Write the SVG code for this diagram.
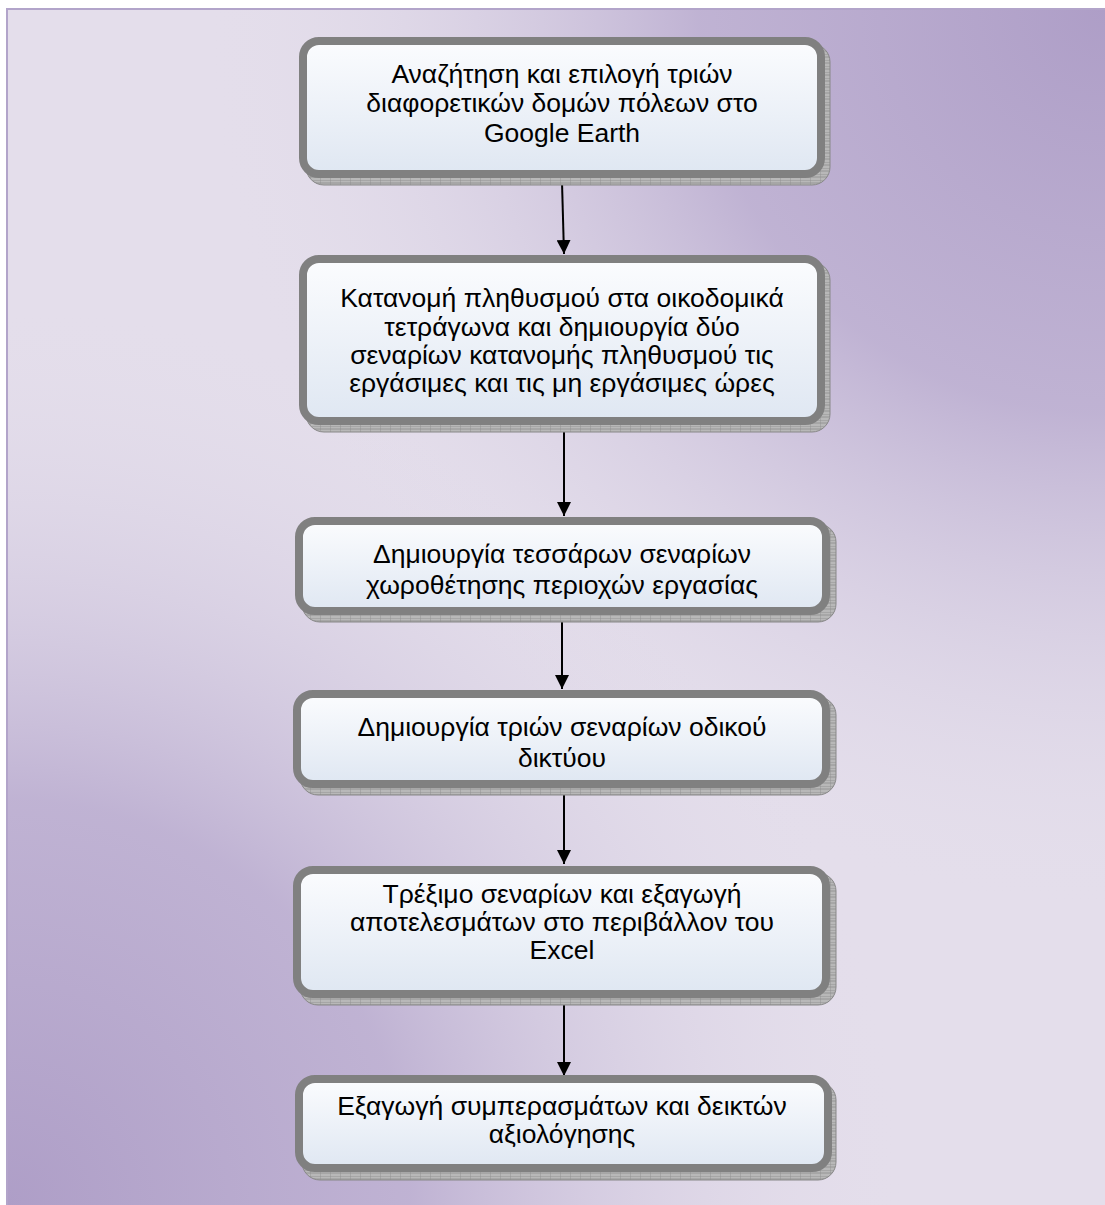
<svg xmlns="http://www.w3.org/2000/svg" width="1105" height="1205" viewBox="0 0 1105 1205">
<defs>
<radialGradient id="tr" cx="1105" cy="8" r="900" gradientUnits="userSpaceOnUse">
<stop offset="0" stop-color="#ae9ec7" stop-opacity="1"/>
<stop offset="0.45" stop-color="#b9abcf" stop-opacity="0.85"/>
<stop offset="1" stop-color="#e4deeb" stop-opacity="0"/>
</radialGradient>
<radialGradient id="bl" cx="6" cy="1205" r="900" gradientUnits="userSpaceOnUse">
<stop offset="0" stop-color="#ae9ec7" stop-opacity="1"/>
<stop offset="0.45" stop-color="#b9abcf" stop-opacity="0.85"/>
<stop offset="1" stop-color="#e4deeb" stop-opacity="0"/>
</radialGradient>
<linearGradient id="boxfill" x1="0" y1="0" x2="0" y2="1">
<stop offset="0" stop-color="#fbfcfe"/>
<stop offset="1" stop-color="#dfe7f2"/>
</linearGradient>
<pattern id="hatch" width="10" height="6" patternUnits="userSpaceOnUse">
<rect width="10" height="6" fill="#b8b8b8"/>
<path d="M0 0H10M0 3H10M0 0V6" stroke="#8c8c8c" stroke-width="0.8"/>
</pattern>
<marker id="arr" viewBox="0 0 10 10" refX="10" refY="5" markerWidth="7" markerHeight="7" markerUnits="strokeWidth" orient="auto">
<path d="M0 0L10 5L0 10Z" fill="#000"/>
</marker>
</defs>
<style>
.shadow{fill:url(#hatch);stroke:#888;stroke-width:1}
.box{fill:url(#boxfill);stroke:#808080;stroke-width:8}
.t{font-family:"Liberation Sans",Arial,sans-serif;font-size:26.5px;fill:#000;text-anchor:middle}
.c{stroke:#000;stroke-width:2;fill:none;marker-end:url(#arr)}
</style>
<rect x="0" y="0" width="1105" height="1205" fill="#ffffff"/>
<rect x="7" y="9" width="1105" height="1205" fill="#e4deeb"/>
<rect x="7" y="9" width="1105" height="1205" fill="url(#tr)"/>
<rect x="7" y="9" width="1105" height="1205" fill="url(#bl)"/>
<rect x="7" y="9" width="1105" height="1205" fill="none" stroke="#b2a4ca" stroke-width="2"/>

<g id="connectors">
<line class="c" x1="562" y1="182" x2="564" y2="254"/>
<line class="c" x1="564" y1="429" x2="564" y2="516"/>
<line class="c" x1="562" y1="619" x2="562" y2="689"/>
<line class="c" x1="564" y1="792" x2="564" y2="864"/>
<line class="c" x1="564" y1="1002" x2="564" y2="1076"/>
</g>

<g id="node1">
<rect class="shadow" x="306" y="44" width="524" height="141" rx="18"/>
<rect class="box" x="303" y="41" width="518" height="133" rx="16"/>
<text class="t" x="562" y="83">Αναζήτηση και επιλογή τριών</text>
<text class="t" x="562" y="112">διαφορετικών δομών πόλεων στο</text>
<text class="t" x="562" y="142">Google Earth</text>
</g>

<g id="node2">
<rect class="shadow" x="306" y="262" width="524" height="170" rx="18"/>
<rect class="box" x="303" y="259" width="518" height="162" rx="16"/>
<text class="t" x="562" y="307">Κατανομή πληθυσμού στα οικοδομικά</text>
<text class="t" x="562" y="336">τετράγωνα και δημιουργία δύο</text>
<text class="t" x="562" y="364">σεναρίων κατανομής πληθυσμού τις</text>
<text class="t" x="562" y="392">εργάσιμες και τις μη εργάσιμες ώρες</text>
</g>

<g id="node3">
<rect class="shadow" x="302" y="524" width="534" height="98" rx="18"/>
<rect class="box" x="299" y="521" width="527" height="90" rx="16"/>
<text class="t" x="562" y="563">Δημιουργία τεσσάρων σεναρίων</text>
<text class="t" x="562" y="594">χωροθέτησης περιοχών εργασίας</text>
</g>

<g id="node4">
<rect class="shadow" x="300" y="697" width="536" height="98" rx="18"/>
<rect class="box" x="297" y="694" width="529" height="90" rx="16"/>
<text class="t" x="562" y="736">Δημιουργία τριών σεναρίων οδικού</text>
<text class="t" x="562" y="767">δικτύου</text>
</g>

<g id="node5">
<rect class="shadow" x="300" y="873" width="536" height="132" rx="18"/>
<rect class="box" x="297" y="870" width="529" height="124" rx="16"/>
<text class="t" x="562" y="903">Τρέξιμο σεναρίων και εξαγωγή</text>
<text class="t" x="562" y="931">αποτελεσμάτων στο περιβάλλον του</text>
<text class="t" x="562" y="959">Excel</text>
</g>

<g id="node6">
<rect class="shadow" x="302" y="1082" width="534" height="98" rx="18"/>
<rect class="box" x="299" y="1079" width="529" height="89" rx="16"/>
<text class="t" x="562" y="1115">Εξαγωγή συμπερασμάτων και δεικτών</text>
<text class="t" x="562" y="1143">αξιολόγησης</text>
</g>
</svg>
